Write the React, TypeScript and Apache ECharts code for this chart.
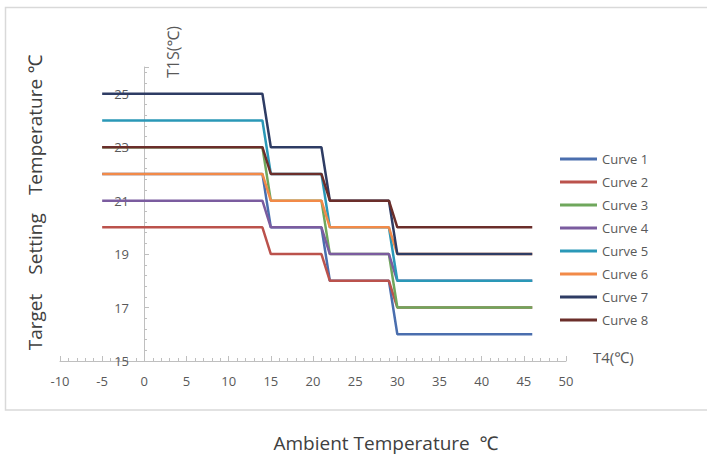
import React, { useEffect, useRef } from "react";
import * as echarts from "echarts";

const ambientPoints = [-5, 14, 15, 21, 22, 29, 30, 46];
const curveNames = ["Curve 1", "Curve 2", "Curve 3", "Curve 4", "Curve 5", "Curve 6", "Curve 7", "Curve 8"];
const curve1 = [22, 22, 20, 20, 18, 18, 16, 16];
const curve2 = [20, 20, 19, 19, 18, 18, 17, 17];
const curve3 = [23, 23, 21, 21, 19, 19, 17, 17];
const curve4 = [21, 21, 20, 20, 19, 19, 18, 18];
const curve5 = [24, 24, 22, 22, 20, 20, 18, 18];
const curve6 = [22, 22, 21, 21, 20, 20, 19, 19];
const curve7 = [25, 25, 23, 23, 21, 21, 19, 19];
const curve8 = [23, 23, 22, 22, 21, 21, 20, 20];
const curveValues = [curve1, curve2, curve3, curve4, curve5, curve6, curve7, curve8];
const curveColors = ["#4a6eae", "#bb524c", "#6fa75c", "#7b5c9f", "#2a98b7", "#f28a48", "#2e3c64", "#6b2e2a"];
const xTicks = { min: -10, max: 50, interval: 5 };
const yTicks = { min: 15, max: 26, interval: 2 };

const FONT = "'Open Sans', 'Noto Sans', sans-serif";

export default function App() {
  const ref = useRef<HTMLDivElement>(null);
  useEffect(() => {
    if (!ref.current) return;
    const chart = echarts.init(ref.current, null, { renderer: "svg" });
    const axisGray = "#bfbfbf";
    const labelGray = "#595959";
    const titleGray = "#404040";
    chart.setOption({
      animation: false,
      backgroundColor: "#ffffff",
      textStyle: { fontFamily: FONT },
      grid: { left: 60, right: 141, top: 67, bottom: 94, containLabel: false },
      legend: {
        orient: "vertical",
        left: 555,
        top: 147,
        icon: "rect",
        itemWidth: 37,
        itemHeight: 3,
        itemGap: 9,
        data: curveNames,
        textStyle: { fontSize: 13, color: labelGray, fontFamily: FONT, lineHeight: 14 },
      },
      xAxis: {
        type: "value",
        min: xTicks.min,
        max: xTicks.max,
        interval: xTicks.interval,
        axisLine: { show: true, lineStyle: { color: axisGray, width: 1 } },
        axisTick: { show: true, inside: true, length: 5, lineStyle: { color: axisGray } },
        minorTick: { show: true, splitNumber: 5, length: 3, lineStyle: { color: axisGray } },
        splitLine: { show: false },
        axisLabel: { color: labelGray, fontSize: 13, margin: 13, fontFamily: FONT },
      },
      yAxis: {
        type: "value",
        min: yTicks.min,
        max: yTicks.max,
        interval: yTicks.interval,
        offset: -84,
        axisLine: { show: true, onZero: false, lineStyle: { color: axisGray, width: 1 } },
        axisTick: { show: true, inside: true, length: 5, lineStyle: { color: axisGray } },
        minorTick: { show: true, splitNumber: 5, length: 3, lineStyle: { color: axisGray } },
        splitLine: { show: false },
        axisLabel: {
          color: labelGray,
          fontSize: 13,
          margin: 15,
          fontFamily: FONT,
          showMaxLabel: false,
          hideOverlap: false,
          formatter: (v: number) => (v > 25 ? "" : String(v)),
        },
      },
      series: curveNames.map((name, i) => ({
        name,
        type: "line",
        symbol: "none",
        color: curveColors[i],
        lineStyle: { width: 2.5, color: curveColors[i] },
        data: ambientPoints.map((x, j) => [x, curveValues[i][j]]),
      })),
      graphic: [
        {
          type: "rect",
          silent: true,
          z: -10,
          shape: { x: 5.5, y: 7.5, width: 720, height: 402.5 },
          style: { fill: "none", stroke: "#d9d9d9", lineWidth: 1.5 },
        },
        {
          type: "text",
          x: 173,
          y: 52,
          rotation: Math.PI / 2,
          style: {
            text: "T1S(℃)",
            fontSize: 16,
            fill: labelGray,
            fontFamily: FONT,
            align: "center",
            verticalAlign: "middle",
          },
        },
        {
          type: "text",
          x: 593,
          y: 357,
          style: {
            text: "T4(℃)",
            fontSize: 15,
            fill: labelGray,
            fontFamily: FONT,
            align: "left",
            verticalAlign: "middle",
          },
        },
        ...[
          { t: "Target", y: 322 },
          { t: "Setting", y: 244 },
          { t: "Temperature", y: 137 },
          { t: "℃", y: 64 },
        ].map((o) => ({
          type: "text",
          x: 35,
          y: o.y,
          rotation: Math.PI / 2,
          style: {
            text: o.t,
            fontSize: 19,
            fill: titleGray,
            fontFamily: FONT,
            align: "center",
            verticalAlign: "middle",
          },
        })),
        {
          type: "text",
          x: 386,
          y: 443,
          style: {
            text: "Ambient Temperature  ℃",
            fontSize: 19,
            fill: titleGray,
            fontFamily: FONT,
            align: "center",
            verticalAlign: "middle",
          },
        },
      ],
    });
    return () => chart.dispose();
  }, []);
  return <div ref={ref} style={{ width: 707, height: 455, position: "absolute", left: 0, top: 0 }} />;
}
